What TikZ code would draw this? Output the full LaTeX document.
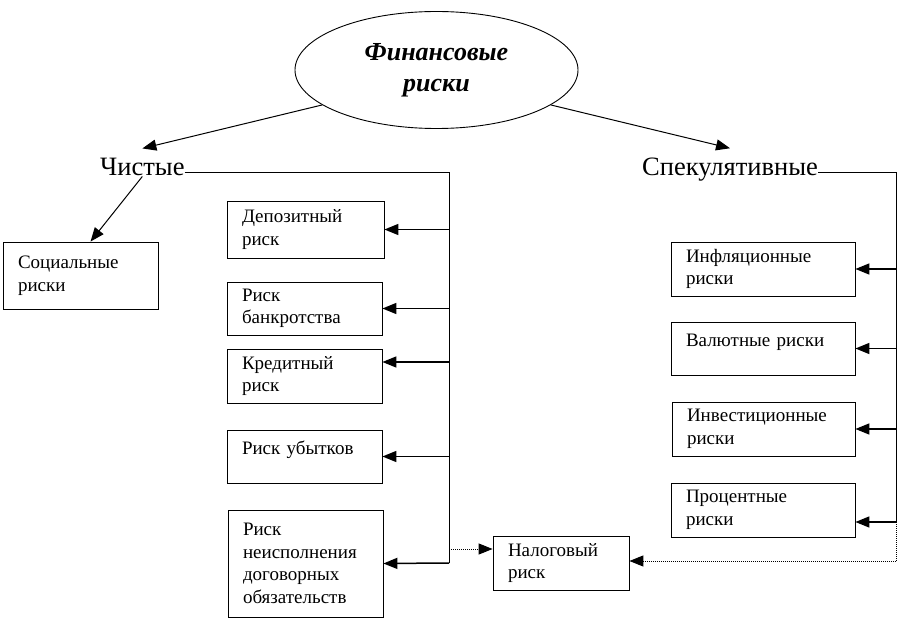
\documentclass[tikz,border=0pt]{standalone}
\usepackage{fontspec}
\setmainfont{Liberation Serif}
\usetikzlibrary{arrows.meta,positioning}
\usetikzlibrary{shapes.geometric}

\begin{document}
\begin{tikzpicture}[x=1pt,y=-1pt,>={Triangle[length=14pt,width=11pt]}]%
\useasboundingbox (0,0) rectangle (906,631);
\tikzstyle{box}=[draw,line width=.8pt,inner xsep=15pt,inner ysep=0pt,align=left,font=\fontsize{19}{22.5}\selectfont] %%
\tikzstyle{one}=[text depth=17pt] %%
\tikzstyle{arr}=[->,line width=1.5pt] %%
\tikzstyle{bus}=[line width=1pt] %%
\tikzstyle{dots}=[->,line width=1pt,densely dotted] %%
\tikzstyle{head}=[anchor=base west,inner sep=0pt,font=\fontsize{26.5}{30}\selectfont] %%
\node[draw,ellipse,line width=.9pt,minimum width=283pt,minimum height=117pt,align=center,
  font=\bfseries\itshape\fontsize{26}{31}\selectfont] (fin) at (436.5,70) {Финансовые\\риски}; %%
\node[head] (chist) at (100,176) {Чистые}; %%
\node[head] (spec) at (642,176) {Спекулятивные}; %%
% left branch
\node[box,text width=125pt,minimum height=67pt] (soc) at (80.5,275.5) {Социальные\\риски}; %%
\node[box,text width=127pt,minimum height=57pt] (dep) at (305.5,229.5) {Депозитный\\риск}; %%
\node[box,text width=125pt,minimum height=53pt] (bank) at (304.5,308.5) {Риск\\банкротства}; %%
\node[box,text width=125pt,minimum height=54pt] (kred) at (304.5,376) {Кредитный\\риск}; %%
\node[box,one,text width=125pt,minimum height=53pt] (ub) at (304.5,456.5) {Риск убытков}; %%
\node[box,text width=125pt,minimum height=107pt] (neisp) at (305.5,563.5) {Риск\\неисполнения\\договорных\\обязательств}; %%
\node[box,text width=106pt,minimum height=54pt] (nal) at (561,563) {Налоговый\\риск}; %%
% right branch
\node[box,text width=154pt,minimum height=54pt] (infl) at (763,269) {Инфляционные\\риски}; %%
\node[box,one,text width=154pt,minimum height=53pt] (val) at (763,348.5) {Валютные риски}; %%
\node[box,text width=153pt,minimum height=54pt] (inv) at (763.5,429) {Инвестиционные\\риски}; %%
\node[box,text width=154pt,minimum height=54pt] (proc) at (763,510) {Процентные\\риски}; %%
\coordinate (cht) at ([yshift=10pt]chist.north);
\coordinate (spt) at ([yshift=10pt]spec.north);
\coordinate (cT) at (449,173);
\coordinate (cB) at (449,563);
\coordinate (sT) at (896,173);
\coordinate (sB) at (896,561);
\coordinate (kr) at ([yshift=14pt]kred.east);
\coordinate (pr) at ([yshift=-12pt]proc.east);
\coordinate (nw) at ([yshift=14pt]nal.west);
\coordinate (ne) at ([yshift=2pt]nal.east);
\coordinate (st) at ([xshift=10pt]soc.north);
\draw[->,bus] (fin.197)--(cht); %%
\draw[->,bus] (fin.343)--(spt); %%
\draw[->,bus] (chist.south)--(st); %%
\draw[bus] (chist.east |- cT)--(cT)--(cB); %%
\draw[arr] (cT |- dep.east)--(dep.east); %%
\draw[arr] (cT |- bank.east)--(bank.east); %%
\draw[arr] (cT |- kr)--(kr); %%
\draw[arr] (cT |- ub.east)--(ub.east); %%
\draw[arr] (cB)--(neisp.east); %%
\draw[dots] (cB |- nw)--(nw); %%
\draw[bus] (spec.east |- sT)--(sT)--(sT |- pr); %%
\draw[arr] (sT |- infl.east)--(infl.east); %%
\draw[arr] (sT |- val.east)--(val.east); %%
\draw[arr] (sT |- inv.east)--(inv.east); %%
\draw[arr] (sT |- pr)--(pr); %%
\draw[line width=1pt,densely dotted] (sT |- pr)--(sB); %%
\draw[dots] (sB)--(ne); %%
\end{tikzpicture}
\end{document}
